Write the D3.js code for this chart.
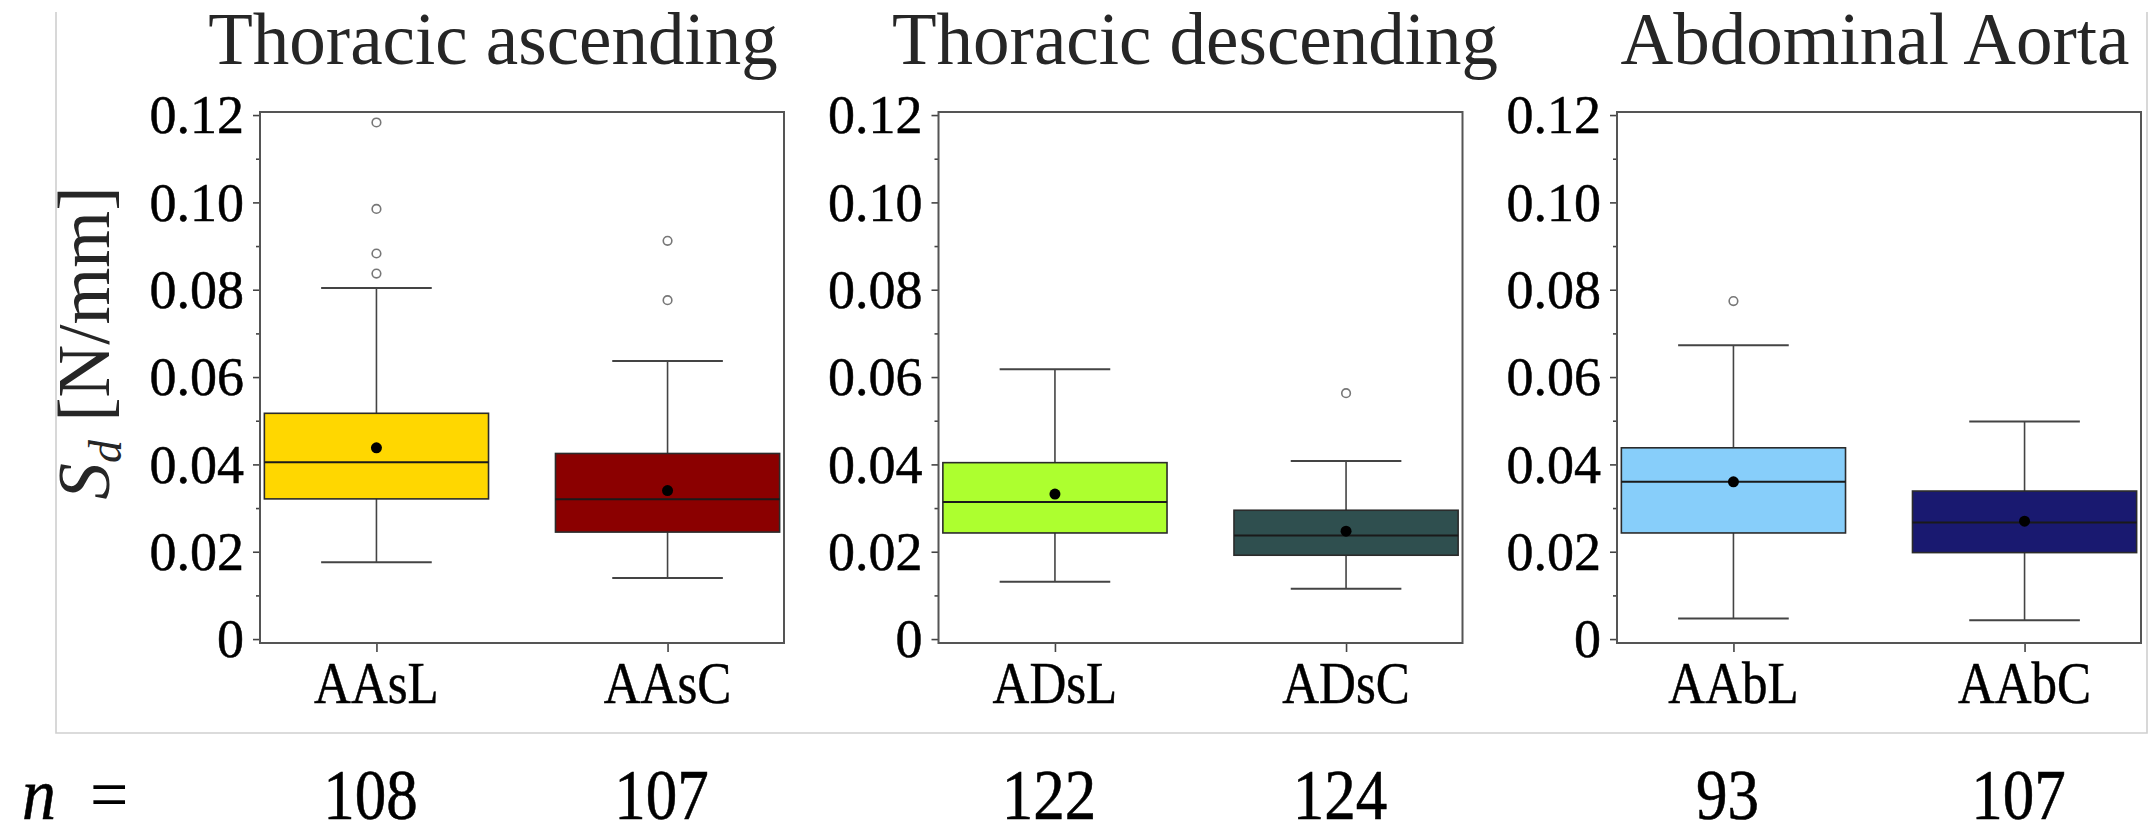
<!DOCTYPE html>
<html>
<head>
<meta charset="utf-8">
<script src="https://cdn.jsdelivr.net/npm/d3@7"></script>
<style>
  html, body { margin: 0; padding: 0; background: #fff; }
  svg { display: block; }
</style>
</head>
<body>
<svg id="chart" width="2148" height="828"></svg>
<script>
// Aortic segment groups and per-sample statistics of S_d [N/mm]
const panelTitles = ["Thoracic ascending", "Thoracic descending", "Abdominal Aorta"];
const categories  = ["AAsL", "AAsC", "ADsL", "ADsC", "AAbL", "AAbC"];
const panelIndex  = [0, 0, 1, 1, 2, 2];
const whiskerLow  = [0.0176, 0.0140, 0.0131, 0.0115, 0.0047, 0.0043];
const quartile1   = [0.0321, 0.0245, 0.0243, 0.0192, 0.0243, 0.0198];
const medians     = [0.0405, 0.0320, 0.0314, 0.0237, 0.0360, 0.0267];
const quartile3   = [0.0517, 0.0425, 0.0404, 0.0295, 0.0438, 0.0339];
const whiskerHigh = [0.0804, 0.0637, 0.0618, 0.0408, 0.0673, 0.0498];
const means       = [0.0438, 0.0340, 0.0332, 0.0247, 0.0360, 0.0270];
const outliers    = [[0.1183, 0.0985, 0.0883, 0.0837], [0.0912, 0.0776], [], [0.0563], [0.0774], []];
const sampleSizes = [108, 107, 122, 124, 93, 107];
const fillColors  = ["#FFD700", "#8B0000", "#ADFF2F", "#2F4F4F", "#87CEFA", "#191970"];
const yTickValues = [0, 0.02, 0.04, 0.06, 0.08, 0.10, 0.12];
const yTickLabels = ["0", "0.02", "0.04", "0.06", "0.08", "0.10", "0.12"];
const yMinorTicks = [0.01, 0.03, 0.05, 0.07, 0.09, 0.11];

const SERIF = "Liberation Serif";

// Layout
const svg = d3.select("#chart").attr("font-family", SERIF);
const plotW = 524;
const plotTop = 112, plotBottom = 643;
const panelLeft = [260, 938.5, 1617];
const titleCenter = [493, 1195, 1875];

const y = d3.scaleLinear().domain([-0.0009, 0.1207]).range([plotBottom, plotTop]);

// Outer light frame (left, bottom, right)
svg.append("path")
  .attr("d", `M56,12 V733 H2147 V12`)
  .attr("fill", "none")
  .attr("stroke", "#cfcfcf")
  .attr("stroke-width", 1.6);

panelTitles.forEach((title, p) => {
  const g = svg.append("g").attr("transform", `translate(${panelLeft[p]},0)`);
  const cats = categories.filter((c, i) => panelIndex[i] === p);
  const x = d3.scalePoint().domain(cats).range([0, plotW]).padding(0.4);
  const step = x.step();
  const boxW = step * 0.77;
  const capW = step * 0.38;

  // Title
  svg.append("text")
    .attr("x", titleCenter[p]).attr("y", 64)
    .attr("text-anchor", "middle")
    .attr("font-family", SERIF)
    .attr("font-size", 73)
    .attr("fill", "#262626")
    .text(title);

  // Major y ticks with labels
  const yAxis = d3.axisLeft(y).tickValues(yTickValues).tickSize(7).tickPadding(9)
    .tickFormat((d, i) => yTickLabels[i]);
  const ya = g.append("g").call(yAxis).attr("font-family", SERIF);
  ya.select(".domain").remove();
  ya.selectAll(".tick line").attr("stroke", "#444").attr("stroke-width", 1.6);
  ya.selectAll(".tick text")
    .attr("font-family", SERIF)
    .attr("font-size", 54)
    .attr("fill", "#000")
    .attr("stroke", "#000").attr("stroke-width", 0.5)
    .attr("dy", "0.33em");

  // Minor y ticks
  const yMinor = d3.axisLeft(y).tickValues(yMinorTicks).tickSize(4).tickFormat("");
  const ym = g.append("g").call(yMinor);
  ym.select(".domain").remove();
  ym.selectAll(".tick line").attr("stroke", "#444").attr("stroke-width", 1.6);

  // Category ticks below the frame
  const xAxis = d3.axisBottom(x).tickSize(9).tickFormat("");
  const xa = g.append("g").attr("transform", `translate(0,${plotBottom})`).call(xAxis);
  xa.select(".domain").remove();
  xa.selectAll(".tick line").attr("stroke", "#444").attr("stroke-width", 1.6);

  // Category labels
  cats.forEach(c => {
    g.append("text")
      .attr("transform", `translate(${x(c)},703) scale(1,1.17)`)
      .attr("text-anchor", "middle")
      .attr("font-family", SERIF)
      .attr("font-size", 51)
      .attr("fill", "#000")
      .attr("stroke", "#000").attr("stroke-width", 0.4)
      .text(c);
  });

  // Boxes
  cats.forEach(c => {
    const i = categories.indexOf(c);
    const cx = x(c);
    // whisker stems
    g.append("line")
      .attr("x1", cx).attr("x2", cx)
      .attr("y1", y(whiskerHigh[i])).attr("y2", y(quartile3[i]))
      .attr("stroke", "#444").attr("stroke-width", 1.6);
    g.append("line")
      .attr("x1", cx).attr("x2", cx)
      .attr("y1", y(quartile1[i])).attr("y2", y(whiskerLow[i]))
      .attr("stroke", "#444").attr("stroke-width", 1.6);
    // caps
    [whiskerHigh[i], whiskerLow[i]].forEach(v => {
      g.append("line")
        .attr("x1", cx - capW / 2).attr("x2", cx + capW / 2)
        .attr("y1", y(v)).attr("y2", y(v))
        .attr("stroke", "#444").attr("stroke-width", 2);
    });
    // IQR box
    g.append("rect")
      .attr("x", cx - boxW / 2).attr("width", boxW)
      .attr("y", y(quartile3[i])).attr("height", y(quartile1[i]) - y(quartile3[i]))
      .attr("fill", fillColors[i])
      .attr("stroke", "#2b2b2b").attr("stroke-width", 1.6);
    // median
    g.append("line")
      .attr("x1", cx - boxW / 2).attr("x2", cx + boxW / 2)
      .attr("y1", y(medians[i])).attr("y2", y(medians[i]))
      .attr("stroke", "#1a1a1a").attr("stroke-width", 2);
    // mean
    g.append("circle")
      .attr("cx", cx).attr("cy", y(means[i])).attr("r", 5.5)
      .attr("fill", "#000");
    // outliers
    outliers[i].forEach(v => {
      g.append("circle")
        .attr("cx", cx).attr("cy", y(v)).attr("r", 4.3)
        .attr("fill", "none")
        .attr("stroke", "#777").attr("stroke-width", 1.6);
    });
  });

  // Plot frame
  g.append("rect")
    .attr("x", 0).attr("y", plotTop)
    .attr("width", plotW).attr("height", plotBottom - plotTop)
    .attr("fill", "none")
    .attr("stroke", "#555").attr("stroke-width", 2);
});

// Y axis title: S_d [N/mm]
const yTitle = svg.append("text")
  .attr("transform", "translate(109,343) rotate(-90)")
  .attr("text-anchor", "middle")
  .attr("font-family", SERIF)
  .attr("font-size", 73)
  .attr("fill", "#262626");
yTitle.append("tspan").attr("font-style", "italic").text("S");
yTitle.append("tspan").attr("font-style", "italic").attr("font-size", 46).attr("dy", 12).text("d");
yTitle.append("tspan").attr("dy", -12).text(" [N/mm]");

// Sample sizes row
svg.append("text")
  .attr("transform", "translate(22,819) scale(1,1.1)")
  .attr("font-family", SERIF)
  .attr("font-size", 68).attr("font-style", "italic").attr("fill", "#000")
  .attr("stroke", "#000").attr("stroke-width", 0.5)
  .text("n");
svg.append("text")
  .attr("transform", "translate(90,819) scale(1,1.1)")
  .attr("font-family", SERIF)
  .attr("font-size", 68).attr("fill", "#000")
  .text("=");

categories.forEach((c, i) => {
  const p = panelIndex[i];
  const cats = categories.filter((cc, j) => panelIndex[j] === p);
  const x = d3.scalePoint().domain(cats).range([0, plotW]).padding(0.4);
  svg.append("text")
    .attr("transform", `translate(${panelLeft[p] + x(c) - 6},819) scale(1,1.13)`)
    .attr("text-anchor", "middle")
    .attr("font-family", SERIF)
    .attr("font-size", 63)
    .attr("fill", "#000")
    .attr("stroke", "#000").attr("stroke-width", 0.5)
    .text(sampleSizes[i]);
});
</script>
</body>
</html>
